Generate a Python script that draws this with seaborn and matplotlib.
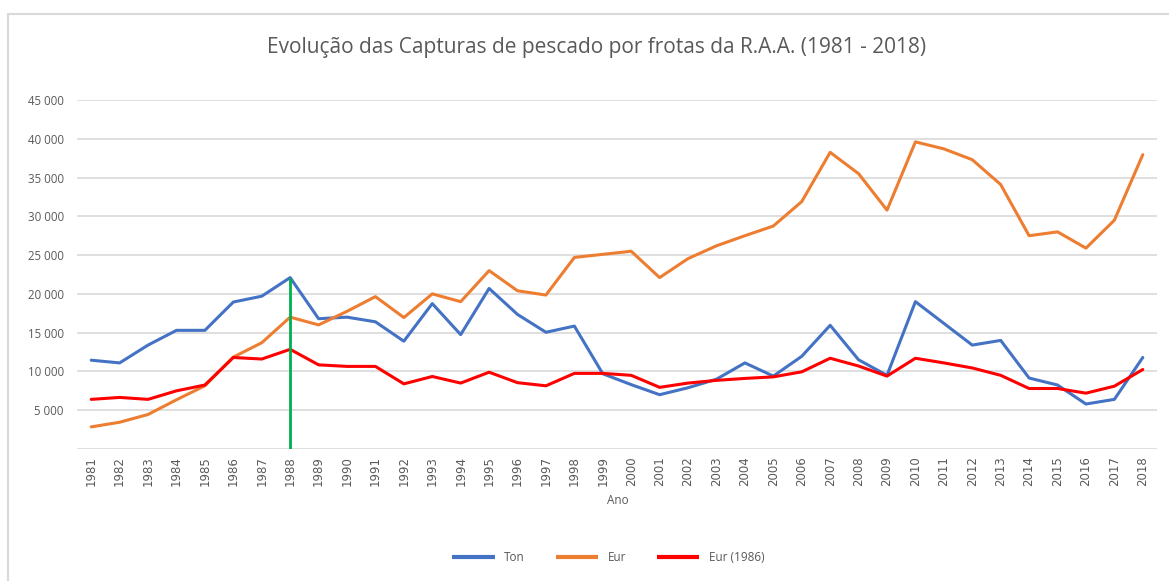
import pandas as pd
import matplotlib
matplotlib.use("Agg")
import matplotlib.pyplot as plt
import seaborn as sns
from matplotlib.lines import Line2D

# Capturas de pescado, frotas da R.A.A.
years = list(range(1981, 2019))
ton = [11450, 11100, 13400, 15300, 15300, 18950, 19700, 22100, 16800, 17000,
       16400, 13900, 18750, 14750, 20700, 17350, 15050, 15850, 9700, 8300,
       7000, 7900, 9000, 11100, 9400, 11950, 15950, 11500, 9500, 19000,
       16200, 13400, 14000, 9150, 8250, 5800, 6400, 11800]
eur = [2850, 3450, 4450, 6350, 8150, 11850, 13700, 17000, 16000, 17750,
       19650, 16950, 20000, 19000, 23000, 20400, 19850, 24700, 25100, 25500,
       22100, 24550, 26200, 27500, 28750, 31900, 38250, 35500, 30800, 39600,
       38700, 37300, 34100, 27500, 28000, 25900, 29500, 37950]
eur_1986 = [6400, 6650, 6400, 7500, 8250, 11800, 11600, 12850, 10850, 10650,
            10650, 8400, 9350, 8500, 9900, 8550, 8150, 9750, 9750, 9500,
            7950, 8500, 8850, 9100, 9300, 9950, 11700, 10700, 9400, 11700,
            11100, 10450, 9500, 7800, 7800, 7200, 8100, 10250]
series_names = ["Ton", "Eur", "Eur (1986)"]
series_colors = ["#4472C4", "#ED7D31", "#FF0000"]
marker_year = 1988
y_ticks = list(range(0, 45001, 5000))

title = "Evolução das Capturas de pescado por frotas da R.A.A. (1981 - 2018)"
grey = "#595959"

df = pd.DataFrame({
    "Ano": years * 3,
    "Valor": ton + eur + eur_1986,
    "Serie": [n for n in series_names for _ in years],
})

sns.set_style("white")
plt.rcParams["font.family"] = ["Open Sans", "DejaVu Sans"]

fig = plt.figure(figsize=(11.69, 5.81), dpi=100)
ax = fig.add_axes([77 / 1169, 1 - 449 / 581, 1080 / 1169, 349 / 581])

sns.lineplot(data=df, x="Ano", y="Valor", hue="Serie",
             palette=dict(zip(series_names, series_colors)),
             linewidth=2.2, ax=ax)

# vertical marker at 1988
ax.vlines(marker_year, 0, ton[years.index(marker_year)], color="#00B050",
          linewidth=2.0, zorder=5)

ax.set_xlim(years[0] - 0.5, years[-1] + 0.5)
ax.set_ylim(0, 45000)
ax.set_yticks(y_ticks)
ax.set_yticklabels(["" if v == 0 else f"{v:,}".replace(",", " ") for v in y_ticks],
                   fontsize=8.3, color=grey)
ax.set_xticks(years)
ax.set_xticklabels([str(y) for y in years], rotation=90, fontsize=8.5,
                   color=grey, family="DejaVu Sans")
ax.tick_params(axis="x", length=0, pad=5)
ax.tick_params(axis="y", length=0, pad=9.5)
ax.yaxis.grid(True, color="#D9D9D9", linewidth=1.2)
ax.set_axisbelow(True)
for s in ax.spines.values():
    s.set_visible(False)
ax.set_xlabel("")
ax.set_ylabel("")

sns.move_legend(ax, "center", bbox_to_anchor=(0.492, -0.31), ncol=3,
                frameon=False, title=None, fontsize=8.5, handlelength=3.6,
                columnspacing=2.6)
for t in ax.get_legend().get_texts():
    t.set_color(grey)
for h in ax.get_legend().legend_handles:
    h.set_linewidth(3)
    h.set_solid_capstyle("butt")

fig.text(597 / 1169, 1 - 47 / 581, title, ha="center", va="center",
         fontsize=15, color=grey)
fig.text(618 / 1169, 1 - 500 / 581, "Ano", ha="center", va="center",
         fontsize=8.5, color=grey)

# chart frame (left and top edges visible)
fig.add_artist(Line2D([7.5 / 1169, 7.5 / 1169], [0, 1 - 14 / 581],
                      transform=fig.transFigure, color="#D9D9D9", linewidth=1.5))
fig.add_artist(Line2D([7.5 / 1169, 1], [1 - 14 / 581, 1 - 14 / 581],
                      transform=fig.transFigure, color="#D9D9D9", linewidth=1.5))

fig.savefig("out.png", dpi=100)
